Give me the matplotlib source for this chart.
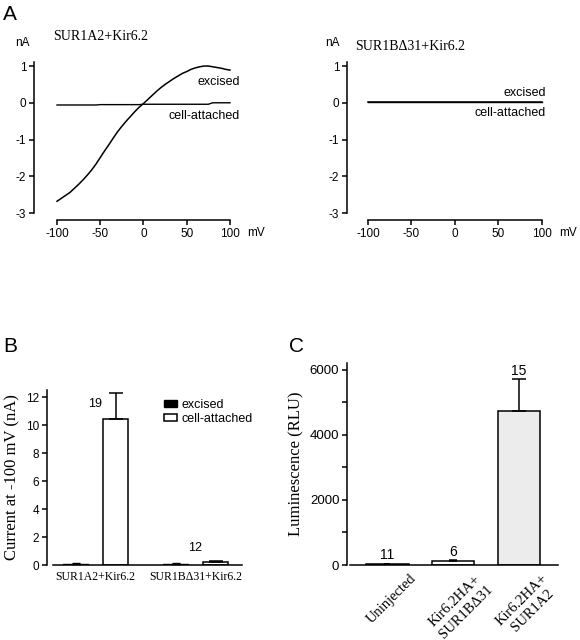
import matplotlib
matplotlib.use('Agg')
import matplotlib.pyplot as plt
from matplotlib.transforms import ScaledTranslation

plt.rcParams['axes.unicode_minus'] = False

W, H = 580, 640
SANS = ['Liberation Sans', 'DejaVu Sans']
SERIF = ['Liberation Serif', 'DejaVu Serif']

# ---- Panel A: I-V ramps (mV vs nA) ----
mv = list(range(-100, 101, 5))
a2_excised = [-2.68, -2.60, -2.52, -2.44, -2.33, -2.22, -2.10, -1.97, -1.83, -1.67,
              -1.49, -1.31, -1.14, -0.96, -0.79, -0.64, -0.50, -0.37, -0.24, -0.12,
              -0.02, 0.09, 0.20, 0.31, 0.41, 0.50, 0.58, 0.66, 0.73, 0.80,
              0.85, 0.91, 0.95, 0.98, 1.00, 1.00, 0.98, 0.96, 0.94, 0.91, 0.89]
a2_attached = [-0.06] * 10 + [-0.05] * 10 + [-0.04] * 16 + [0.0] * 5
b31_excised = [0.02] * 41
b31_attached = [0.01] * 41

# ---- Panel B: current at -100 mV ----
b_groups = ['SUR1A2+Kir6.2', 'SUR1B\u039431+Kir6.2']
b_excised = [0.10, 0.10]
b_excised_err = [0.04, 0.04]
b_attached = [10.45, 0.20]
b_attached_err = [1.85, 0.07]
b_n = ['19', '12']

# ---- Panel C: surface luminescence ----
c_labels = ['Uninjected', 'Kir6.2HA+\nSUR1B\u039431', 'Kir6.2HA+\nSUR1A2']
c_values = [30, 110, 4750]
c_err = [10, 45, 970]
c_n = ['11', '6', '15']


def rect(l, t, r, b):
    return [l / W, 1 - b / H, (r - l) / W, (b - t) / H]


fig = plt.figure(figsize=(W / 100, H / 100), dpi=100)


def ftext(x, y, s, **kw):
    fig.text(x / W, 1 - y / H, s, **kw)


def style(ax, fs):
    ax.spines['top'].set_visible(False)
    ax.spines['right'].set_visible(False)
    for sp in ('left', 'bottom'):
        ax.spines[sp].set_linewidth(1.1)
    ax.tick_params(width=1.1, length=3.5, labelsize=fs, pad=2)
    for lbl in ax.get_xticklabels() + ax.get_yticklabels():
        lbl.set_family(SANS)


# ---- A: two I-V panels ----
ivs = [
    (rect(34, 62, 240, 220), (-126.6, 111.6), a2_excised, a2_attached,
     (111.6, 0.56), (111.6, -0.36), 22, 256),
    (rect(347, 62, 552, 220), (-124.1, 111.5), b31_excised, b31_attached,
     (104.6, 0.27), (104.6, -0.28), 332, 568),
]
for r, xl, exc, att, pe, pa, nax, mvx in ivs:
    ax = fig.add_axes(r)
    ax.plot(mv, exc, color='black', lw=1.1)
    ax.plot(mv, att, color='black', lw=1.0)
    ax.set_xlim(*xl)
    ax.set_ylim(-3.19, 1.11)
    ax.spines['bottom'].set_bounds(-100, 100)
    ax.spines['left'].set_bounds(-3, 1.1)
    ax.set_xticks([-100, -50, 0, 50, 100])
    ax.set_yticks([-3, -2, -1, 0, 1])
    style(ax, 8.5)
    ax.text(pe[0], pe[1], 'excised', ha='right', va='center', fontsize=9, family=SANS)
    ax.text(pa[0], pa[1], 'cell-attached', ha='right', va='center', fontsize=9, family=SANS)
    ftext(nax, 43, 'nA', ha='center', va='center', fontsize=8.5, family=SANS)
    ftext(mvx, 233, 'mV', ha='center', va='center', fontsize=8.5, family=SANS)
ftext(53, 37, 'SUR1A2+Kir6.2', ha='left', va='center', fontsize=10, family=SERIF)
ftext(355, 47, 'SUR1B\u039431+Kir6.2', ha='left', va='center', fontsize=10, family=SERIF)

# ---- B ----
axb = fig.add_axes(rect(47, 390, 245, 565))
xs = [0, 1]
bw = 0.25
axb.bar([x - 0.2 for x in xs], b_excised, bw, color='black', edgecolor='black',
        lw=1, label='excised')
axb.bar([x + 0.2 for x in xs], b_attached, bw, color='white', edgecolor='black',
        lw=1.1, label='cell-attached')
for x, v, e in zip(xs, b_attached, b_attached_err):
    axb.errorbar(x + 0.2, v, yerr=[[0], [e]], color='black', lw=1.1, capsize=5, capthick=1.1)
for x, v, e in zip(xs, b_excised, b_excised_err):
    axb.errorbar(x - 0.2, v, yerr=[[0], [e]], color='black', lw=1.0, capsize=3, capthick=1.0)
for x, v, n in zip(xs, b_attached, b_n):
    axb.annotate(n, (x, v), xytext=(0, 10.5), textcoords='offset points',
                 ha='center', va='center', fontsize=9, family=SANS)
axb.set_xlim(-0.485, 1.495)
axb.set_ylim(0, 12.5)
axb.spines['bottom'].set_bounds(-0.425, 1.465)
axb.set_yticks(range(0, 13, 2))
axb.set_xticks(xs)
axb.set_xticklabels(b_groups)
style(axb, 8.5)
axb.tick_params(axis='x', length=0, pad=4)
for lbl in axb.get_xticklabels():
    lbl.set_family(SERIF)
    lbl.set_fontsize(8.5)
axb.set_ylabel('Current at -100 mV (nA)', family=SERIF, fontsize=12, labelpad=4)
axb.legend(loc='upper left', bbox_to_anchor=(0.545, 1.0), frameon=False,
           handlelength=1.1, handleheight=0.45, handletextpad=0.35, labelspacing=0.2,
           borderpad=0.2, prop={'family': SANS, 'size': 9})

# ---- C ----
axc = fig.add_axes(rect(347, 363, 560, 565))
xc = [0, 1, 2]
axc.bar(xc, c_values, 0.64, color=['white', 'white', '#ececec'], edgecolor='black', lw=1.1)
caps = [2, 3, 5]
for x, v, e, c in zip(xc, c_values, c_err, caps):
    axc.errorbar(x, v, yerr=[[0], [e]], color='black', lw=1.1, capsize=c, capthick=1.1)
for x, v, e, n in zip(xc, c_values, c_err, c_n):
    axc.annotate(n, (x, v + e), xytext=(0, 6), textcoords='offset points',
                 ha='center', va='center', fontsize=10, family=SANS)
axc.set_xlim(-0.616, 2.624)
axc.set_ylim(0, 6215)
axc.spines['bottom'].set_bounds(-0.57, 2.59)
axc.set_yticks([0, 2000, 4000, 6000])
axc.set_yticks([1000, 3000, 5000], minor=True)
axc.set_xticks(xc)
axc.set_xticklabels(c_labels, rotation=45, ha='right', va='top', rotation_mode='anchor',
                    ma='center')
style(axc, 9.5)
axc.tick_params(axis='y', which='minor', length=3.5, width=1.1)
axc.tick_params(axis='x', length=0, pad=5)
off = ScaledTranslation(0.22, 0, fig.dpi_scale_trans)
for lbl in axc.get_xticklabels():
    lbl.set_family(SERIF)
    lbl.set_fontsize(10.5)
    lbl.set_transform(lbl.get_transform() + off)
axc.set_ylabel('Luminescence (RLU)', family=SERIF, fontsize=12, labelpad=4)

# panel letters
ftext(3, 15, 'A', ha='left', va='center', fontsize=15, family=SANS)
ftext(3, 347, 'B', ha='left', va='center', fontsize=15, family=SANS)
ftext(289, 347, 'C', ha='left', va='center', fontsize=15, family=SANS)

fig.savefig('out.png', dpi=100)
